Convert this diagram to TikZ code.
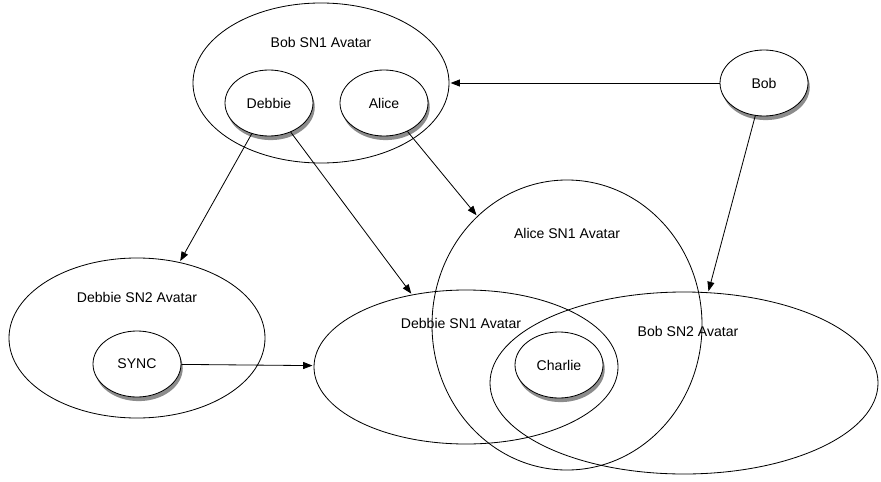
\documentclass[tikz,border=0pt]{standalone}
\usepackage{fontspec}
\setmainfont{Liberation Sans}
\usetikzlibrary{shapes.geometric,shadows,arrows.meta}

\tikzset{
  avatar/.style={ellipse, draw, inner sep=0pt},
  user/.style={ellipse, draw, fill=white, inner sep=0pt,
    minimum width=2.64cm, minimum height=1.98cm,
    drop shadow={shadow xshift=1.5pt, shadow yshift=-3.5pt, fill=black!45, opacity=1}},
  lbl/.style={inner sep=0pt},
  link/.style={-{Triangle[length=8pt,width=6pt]}, shorten >=1pt}
}

\begin{document}
\begin{tikzpicture}[x=0.03cm, y=-0.03cm, line width=0.7pt,
    font=\fontsize{12}{14}\selectfont]
  \useasboundingbox (0,0) rectangle (881,481);

  % the avatar sets
  \node[avatar, minimum width=7.68cm, minimum height=4.8cm] (bobsn1) at (321,83) {};
  \node[avatar, minimum width=7.68cm, minimum height=4.8cm] (debsn2) at (137,338) {};
  \node[avatar, minimum width=8.1cm, minimum height=8.7cm] (alisn1) at (567,325) {};
  \node[avatar, minimum width=9.12cm, minimum height=4.62cm] (debsn1) at (466,367) {};
  \node[avatar, minimum width=11.64cm, minimum height=5.46cm] (bobsn2) at (684,383) {};

  \node[lbl] (bobsn1l) at (321,42) {Bob SN1 Avatar};
  \node[lbl] (debsn2l) at (137,297) {Debbie SN2 Avatar};
  \node[lbl] (alisn1l) at (567,233) {Alice SN1 Avatar};
  \node[lbl] (debsn1l) at (461,323) {Debbie SN1 Avatar};
  \node[lbl] (bobsn2l) at (688,331) {Bob SN2 Avatar};

  % the users
  \node[user] (debbie) at (269,103) {Debbie};
  \node[user] (alice) at (384,103) {Alice};
  \node[user] (bob) at (764,83) {Bob};
  \node[user] (sync) at (137,364) {SYNC};
  \node[user] (charlie) at (559,365) {Charlie};

  \draw[link] (bob) -- (bobsn1);
  \draw[link] (bob) -- (bobsn2);
  \draw[link] (debbie) -- (debsn2);
  \draw[link] (debbie) -- (debsn1);
  \draw[link] (alice) -- (alisn1);
  \draw[link] (sync) -- (debsn1);
\end{tikzpicture}
\end{document}
